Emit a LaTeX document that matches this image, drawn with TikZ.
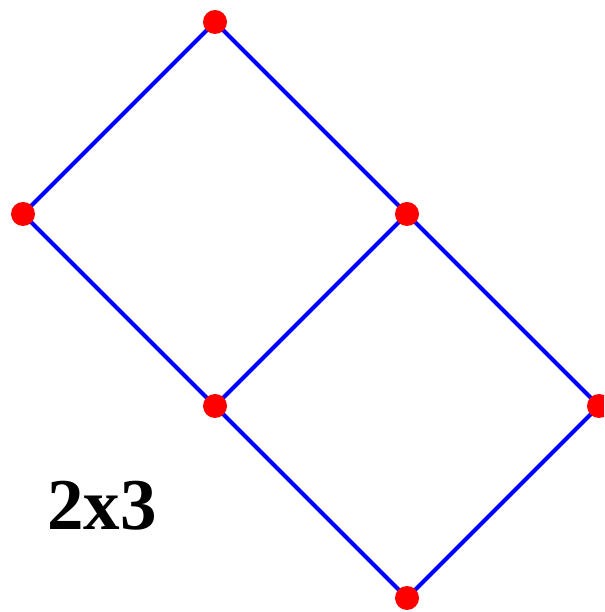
\documentclass[tikz,border=0pt]{standalone}
\usepackage{fontspec}
\setmainfont{Liberation Serif}
\usetikzlibrary{backgrounds}
\tikzset{
  vtx/.style={circle,fill=red,inner sep=0pt,minimum size=24pt},
  edge/.style={blue,line width=4pt}
}
\begin{document}
\begin{tikzpicture}[x=1pt,y=1pt]
			\useasboundingbox (0,0) rectangle (604,612);
			\clip (0,0) rectangle (604,612);
			\node[vtx] (t) at (215,590) {};
			\node[vtx] (l) at (23,398) {};
			\node[vtx] (m) at (407,398) {};
			\node[vtx] (c) at (215,206) {};
			\node[vtx] (r) at (599,206) {};
			\node[vtx] (b) at (407,14) {};
			\begin{scope}[on background layer]
			\draw[edge] (t.center)--(l.center);
			\draw[edge] (t.center)--(m.center);
			\draw[edge] (l.center)--(c.center);
			\draw[edge] (m.center)--(c.center);
			\draw[edge] (m.center)--(r.center);
			\draw[edge] (c.center)--(b.center);
			\draw[edge] (r.center)--(b.center);
			\end{scope}
			\node[font=\bfseries\fontsize{73}{75}\selectfont] (lbl) at (102,106) {2x3};
		\end{tikzpicture}
\end{document}
